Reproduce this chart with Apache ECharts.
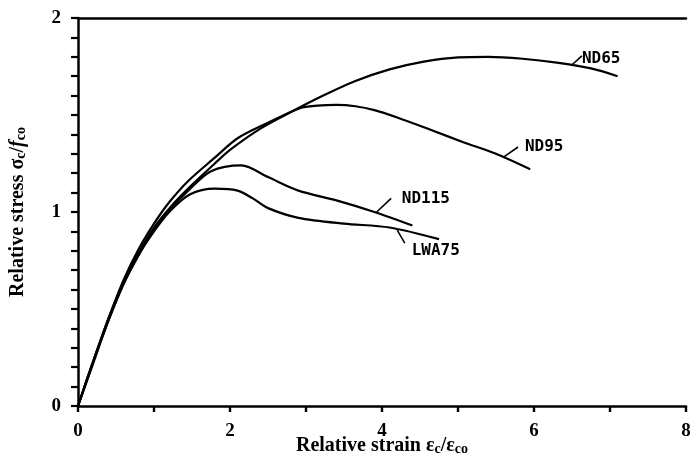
<!DOCTYPE html>
<html><head><meta charset="utf-8">
<script src="https://cdn.jsdelivr.net/npm/echarts@6/dist/echarts.min.js"></script>
<style>html,body{margin:0;padding:0;background:#fff}#c{width:690px;height:462px}</style>
</head><body><div id="c"></div>
<script>
// ---- data (relative strain, relative stress) ----
const seriesNames = ['ND65', 'ND95', 'ND115', 'LWA75'];
const nd65 = [[0,0],[0.2,0.23],[0.4,0.45],[0.6,0.64],[0.8,0.79],[1.0,0.92],[1.25,1.04],[1.5,1.14],[1.8,1.25],[2.0,1.32],[2.4,1.43],[2.8,1.515],[3.2,1.595],[3.65,1.675],[4.1,1.735],[4.55,1.775],[5.0,1.797],[5.4,1.80],[5.85,1.79],[6.3,1.77],[6.75,1.74],[7.1,1.70]];
const nd95 = [[0,0],[0.2,0.23],[0.4,0.45],[0.6,0.65],[0.8,0.81],[1.0,0.94],[1.2,1.05],[1.45,1.16],[1.8,1.28],[2.1,1.38],[2.5,1.46],[2.92,1.535],[3.15,1.548],[3.4,1.552],[3.65,1.545],[3.9,1.525],[4.2,1.487],[4.63,1.425],[5.07,1.36],[5.5,1.30],[5.95,1.22]];
const nd115 = [[0,0],[0.2,0.23],[0.4,0.44],[0.6,0.63],[0.8,0.78],[1.0,0.91],[1.2,1.01],[1.45,1.11],[1.75,1.21],[2.15,1.24],[2.5,1.18],[2.9,1.11],[3.4,1.06],[3.9,1.00],[4.4,0.93]];
const lwa75 = [[0,0],[0.2,0.22],[0.4,0.44],[0.6,0.63],[0.8,0.78],[1.0,0.90],[1.2,1.00],[1.47,1.09],[1.8,1.12],[2.1,1.11],[2.3,1.07],[2.5,1.02],[2.9,0.97],[3.5,0.94],[4.1,0.92],[4.75,0.86]];
const xTickLabels = [0, 2, 4, 6, 8];
const yTickLabels = [0, 1, 2];

// ---- annotation placement (data units) ----
const labelAt = { ND65: [6.63, 1.79], ND95: [5.88, 1.338], ND115: [4.26, 1.067], LWA75: [4.39, 0.80] };
const leaderAt = {
  ND65: [[6.49, 1.755], [6.63, 1.805]],
  ND95: [[5.59, 1.28], [5.79, 1.335]],
  ND115: [[3.93, 1.0], [4.12, 1.07]],
  LWA75: [[4.2, 0.907], [4.3, 0.84]]
};
const allData = [nd65, nd95, nd115, lwa75];

const serif = '"Liberation Serif", "DejaVu Serif", serif';
const chart = echarts.init(document.getElementById('c'), null, { renderer: 'canvas' });

const series = seriesNames.map((name, i) => ({
  name,
  type: 'line',
  data: allData[i],
  smooth: 0.3,
  showSymbol: false,
  symbol: 'none',
  lineStyle: { color: '#000', width: 2.2 },
  z: 3,
  markPoint: {
    silent: true,
    symbol: 'circle',
    symbolSize: 0,
    data: [{ coord: labelAt[name], value: name }],
    label: {
      show: true, position: 'right', distance: 0, formatter: name,
      fontFamily: '"DejaVu Sans Mono", monospace', fontWeight: 'bold', fontSize: 16, color: '#000'
    }
  },
  markLine: {
    silent: true,
    symbol: ['none', 'none'],
    label: { show: false },
    lineStyle: { color: '#000', width: 1.6, type: 'solid' },
    data: [[{ coord: leaderAt[name][0] }, { coord: leaderAt[name][1] }]]
  }
}));

chart.setOption({
  animation: false,
  backgroundColor: '#fff',
  grid: { left: 78, right: 4, top: 18, bottom: 56, containLabel: false, outerBoundsMode: 'none' },
  xAxis: [{
    type: 'value', min: 0, max: 8, interval: 1,
    axisLine: { show: true, onZero: false, lineStyle: { color: '#000', width: 2.5 } },
    axisTick: { show: true, inside: false, length: 6, lineStyle: { color: '#000', width: 2.4 } },
    splitLine: { show: false },
    axisLabel: {
      margin: 16, fontFamily: serif, fontWeight: 'bold', fontSize: 19, color: '#000',
      formatter: v => xTickLabels.includes(v) ? String(v) : ''
    },
    name: 'Relative strain ε{s|c}/ε{s|co}',
    nameLocation: 'middle', nameGap: 30, nameMoveOverlap: false,
    nameTextStyle: {
      fontFamily: serif, fontWeight: 'bold', fontSize: 20, color: '#000',
      rich: { s: { fontFamily: serif, fontWeight: 'bold', fontSize: 14, color: '#000', verticalAlign: 'bottom', padding: [5, 0, 0, 0] } }
    }
  }, {
    type: 'value', min: 0, max: 8, position: 'top',
    axisLine: { show: true, onZero: false, lineStyle: { color: '#000', width: 2.5 } },
    axisTick: { show: false }, axisLabel: { show: false }, splitLine: { show: false }
  }],
  yAxis: {
    type: 'value', min: 0, max: 2, interval: 0.1,
    axisLine: { show: true, onZero: false, lineStyle: { color: '#000', width: 2.5 } },
    axisTick: { show: true, inside: false, length: 7, lineStyle: { color: '#000', width: 2.2 } },
    splitLine: { show: false },
    axisLabel: {
      margin: 17, fontFamily: serif, fontWeight: 'bold', fontSize: 19, color: '#000',
      formatter: v => { const r = Math.round(v * 10) / 10; return yTickLabels.includes(r) ? String(r) : ''; }
    },
    name: 'Relative stress σ{s|c}/{i|f}{s|co}',
    nameLocation: 'middle', nameGap: 50, nameRotate: 90, nameMoveOverlap: false,
    nameTextStyle: {
      fontFamily: serif, fontWeight: 'bold', fontSize: 20, color: '#000',
      rich: {
        s: { fontFamily: serif, fontWeight: 'bold', fontSize: 14, color: '#000', verticalAlign: 'bottom', padding: [5, 0, 0, 0] },
        i: { fontFamily: serif, fontWeight: 'bold', fontStyle: 'italic', fontSize: 20, color: '#000' }
      }
    }
  },
  series
});
</script></body></html>
